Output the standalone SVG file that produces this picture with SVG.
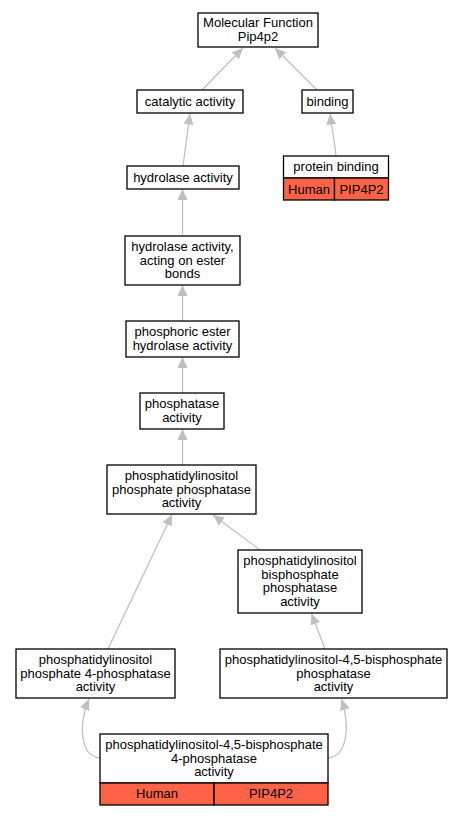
<svg xmlns="http://www.w3.org/2000/svg" width="463" height="816" viewBox="0 0 463 816">
<style>
  .box { fill: #ffffff; stroke: #000000; stroke-width: 1.3; }
  .org { fill: #ff6347; stroke: #000000; stroke-width: 1.3; }
  .lbl { font-family: "Liberation Sans", Arial, sans-serif; font-size: 13px; fill: #000000; text-anchor: middle; }
  .edge { fill: none; stroke: #c0c0c0; stroke-width: 1.3; marker-end: url(#arr); }
</style>
<defs>
  <marker id="arr" markerUnits="userSpaceOnUse" markerWidth="12" markerHeight="10" refX="11" refY="5" orient="auto" viewBox="0 0 12 10">
    <path d="M0,0 L11,5 L0,10 z" fill="#c0c0c0"/>
  </marker>
</defs>
<rect width="463" height="816" fill="#ffffff"/>
<g id="edges">
  <path class="edge" d="M202,90 L243,48"/>
  <path class="edge" d="M317,90 L275,48"/>
  <path class="edge" d="M183,166 L190,113.5"/>
  <path class="edge" d="M336,156 C335,144 332,131 330,113.5"/>
  <path class="edge" d="M182.5,236 L182.5,189"/>
  <path class="edge" d="M182.5,321 L182.5,285"/>
  <path class="edge" d="M182.5,393 L182.5,357"/>
  <path class="edge" d="M182.5,465 L182.5,429"/>
  <path class="edge" d="M108,649 L172,514.5"/>
  <path class="edge" d="M260,550 L213,515"/>
  <path class="edge" d="M325,649 L311.5,613.5"/>
  <path class="edge" d="M100,758 C80,756 78,725 89,699"/>
  <path class="edge" d="M328,758 C348,756 350,725 341.5,699"/>
</g>
<g id="n_mf">
  <rect class="box" x="198" y="13" width="120" height="34"/>
  <text class="lbl" x="258" y="27"><tspan x="258">Molecular Function</tspan><tspan x="258" dy="13.5">Pip4p2</tspan></text>
</g>
<g id="n_catalytic">
  <rect class="box" x="137" y="90" width="106" height="23"/>
  <text class="lbl" x="190" y="106">catalytic activity</text>
</g>
<g id="n_binding">
  <rect class="box" x="302" y="90" width="51" height="23"/>
  <text class="lbl" x="327.5" y="106">binding</text>
</g>
<g id="n_protein_binding">
  <rect class="box" x="283.5" y="156" width="105" height="22"/>
  <rect class="org" x="283.5" y="178" width="51" height="22"/>
  <rect class="org" x="334.5" y="178" width="54" height="22"/>
  <text class="lbl" x="336" y="171">protein binding</text>
  <text class="lbl" x="309" y="193.5">Human</text>
  <text class="lbl" x="361.5" y="193.5">PIP4P2</text>
</g>
<g id="n_hydrolase">
  <rect class="box" x="127" y="166" width="112" height="23"/>
  <text class="lbl" x="183" y="182">hydrolase activity</text>
</g>
<g id="n_ester">
  <rect class="box" x="125" y="236" width="115" height="49"/>
  <text class="lbl" x="182.5" y="251"><tspan x="182.5">hydrolase activity,</tspan><tspan x="182.5" dy="13.5">acting on ester</tspan><tspan x="182.5" dy="13.5">bonds</tspan></text>
</g>
<g id="n_phosphoric">
  <rect class="box" x="126" y="321" width="113" height="36"/>
  <text class="lbl" x="182.5" y="336"><tspan x="182.5">phosphoric ester</tspan><tspan x="182.5" dy="13.5">hydrolase activity</tspan></text>
</g>
<g id="n_phosphatase">
  <rect class="box" x="140" y="393" width="84" height="36"/>
  <text class="lbl" x="182" y="408"><tspan x="182">phosphatase</tspan><tspan x="182" dy="13.5">activity</tspan></text>
</g>
<g id="n_pipp">
  <rect class="box" x="107" y="465" width="149" height="49"/>
  <text class="lbl" x="181.5" y="480"><tspan x="181.5">phosphatidylinositol</tspan><tspan x="181.5" dy="13.5">phosphate phosphatase</tspan><tspan x="181.5" dy="13.5">activity</tspan></text>
</g>
<g id="n_pibp">
  <rect class="box" x="238" y="550" width="124" height="63"/>
  <text class="lbl" x="300" y="565"><tspan x="300">phosphatidylinositol</tspan><tspan x="300" dy="13.5">bisphosphate</tspan><tspan x="300" dy="13.5">phosphatase</tspan><tspan x="300" dy="13.5">activity</tspan></text>
</g>
<g id="n_pip4p">
  <rect class="box" x="16" y="649" width="159" height="49"/>
  <text class="lbl" x="95.5" y="664"><tspan x="95.5">phosphatidylinositol</tspan><tspan x="95.5" dy="13.5">phosphate 4-phosphatase</tspan><tspan x="95.5" dy="13.5">activity</tspan></text>
</g>
<g id="n_pi45bp">
  <rect class="box" x="220" y="649" width="227" height="49"/>
  <text class="lbl" x="333.5" y="664"><tspan x="333.5">phosphatidylinositol-4,5-bisphosphate</tspan><tspan x="333.5" dy="13.5">phosphatase</tspan><tspan x="333.5" dy="13.5">activity</tspan></text>
</g>
<g id="n_pi45bp4p">
  <rect class="box" x="100" y="734" width="228" height="49"/>
  <rect class="org" x="100" y="783" width="114" height="22"/>
  <rect class="org" x="214" y="783" width="114" height="22"/>
  <text class="lbl" x="214" y="749"><tspan x="214">phosphatidylinositol-4,5-bisphosphate</tspan><tspan x="214" dy="13.5">4-phosphatase</tspan><tspan x="214" dy="13.5">activity</tspan></text>
  <text class="lbl" x="157" y="798">Human</text>
  <text class="lbl" x="271" y="798">PIP4P2</text>
</g>
</svg>
